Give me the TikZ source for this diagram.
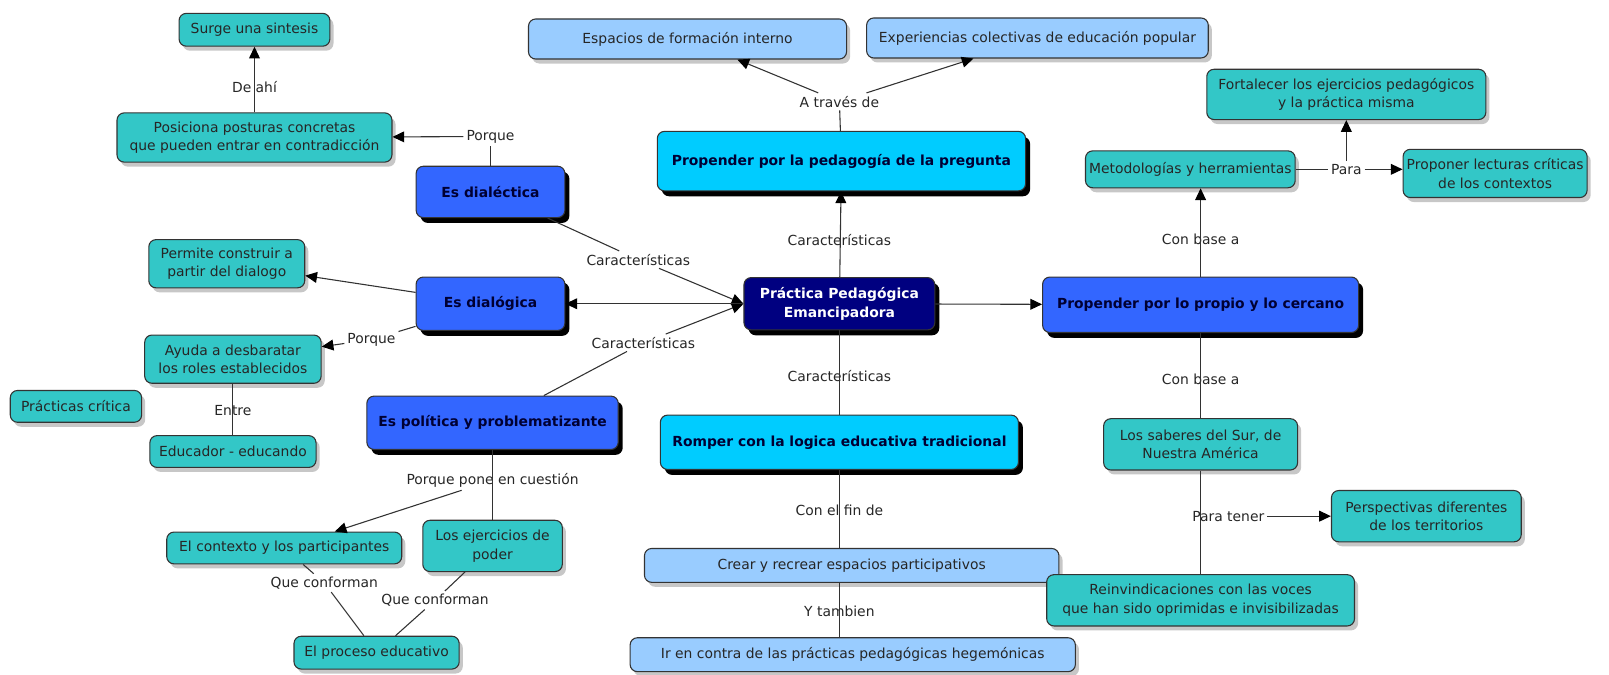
\documentclass[tikz,border=0pt]{standalone}
\usepackage{fontspec}
\setmainfont{DejaVu Sans}
\usepackage{xcolor}
\usepackage{tikz}
\usetikzlibrary{positioning,shadows,arrows.meta}

\definecolor{turquesa}{RGB}{51,199,199}
\definecolor{celeste}{RGB}{153,204,255}
\definecolor{cian}{RGB}{0,204,255}
\definecolor{azul}{RGB}{51,102,255}
\definecolor{marino}{RGB}{0,0,128}
\definecolor{tinta}{RGB}{0,0,51}
\definecolor{gris}{RGB}{50,50,50}

\begin{document}
\begin{tikzpicture}[x=0.02cm, y=-0.02cm,
	every node/.style={font=\fontsize{7.7}{10.3}\selectfont, align=center},
	caja/.style={rectangle, rounded corners=4pt, draw=black!80, line width=0.6pt, inner sep=2pt},
	sombra/.style={drop shadow={shadow xshift=2pt, shadow yshift=-2.5pt, fill=black!22, opacity=1}},
	negra/.style={drop shadow={shadow xshift=2.5pt, shadow yshift=-3pt, fill=black, opacity=1}},
	concepto/.style={caja, sombra, fill=turquesa, text=black!85},
	claro/.style={caja, sombra, fill=celeste, text=black!85},
	idea/.style={caja, negra, fill=azul, text=tinta, font=\fontsize{7.7}{10.3}\selectfont\bfseries},
	fuerte/.style={caja, negra, fill=cian, text=tinta, font=\fontsize{7.7}{10.3}\selectfont\bfseries},
	centro/.style={caja, negra, fill=marino, text=white, font=\fontsize{7.7}{10.3}\selectfont\bfseries},
	enlace/.style={inner sep=1.5pt, text=black!85},
	traza/.style={draw=gris, line width=0.6pt},
	flecha/.style={traza, -{Triangle[length=6.5pt,width=6pt,fill=black,color=black]}}]
	\useasboundingbox (0,0) rectangle (1568,657);

	% centro
	\node[centro, minimum width=3.72cm, minimum height=1.02cm] (practica) at (818,296) {Práctica Pedagógica\\Emancipadora};

	% izquierda
	\node[concepto, minimum width=2.94cm, minimum height=0.64cm] (surge) at (248,29) {Surge una sintesis};
	\node[concepto, minimum width=5.36cm, minimum height=0.96cm] (posiciona) at (248,134) {Posiciona posturas concretas\\que pueden entrar en contradicción};
	\node[idea, minimum width=2.9cm, minimum height=1.0cm] (dialectica) at (478,187) {Es dialéctica};
	\node[concepto, minimum width=3.04cm, minimum height=0.94cm] (permite) at (221,257) {Permite construir a\\partir del dialogo};
	\node[idea, minimum width=2.9cm, minimum height=1.04cm] (dialogica) at (478,296) {Es dialógica};
	\node[concepto, minimum width=3.44cm, minimum height=0.94cm] (ayuda) at (227,350) {Ayuda a desbaratar\\los roles establecidos};
	\node[concepto, minimum width=2.56cm, minimum height=0.62cm] (practicas) at (74,396) {Prácticas crítica};
	\node[concepto, minimum width=3.24cm, minimum height=0.62cm] (educador) at (227,440) {Educador - educando};
	\node[idea, minimum width=4.9cm, minimum height=1.04cm] (politica) at (480,412) {Es política y problematizante};
	\node[concepto, minimum width=4.58cm, minimum height=0.62cm] (contexto) at (277,534) {El contexto y los participantes};
	\node[concepto, minimum width=2.72cm, minimum height=1.0cm] (ejercicios) at (480,532) {Los ejercicios de\\poder};
	\node[concepto, minimum width=3.22cm, minimum height=0.64cm] (proceso) at (367,636) {El proceso educativo};

	% arriba y abajo
	\node[claro, minimum width=6.2cm, minimum height=0.78cm] (espacios) at (670,38) {Espacios de formación interno};
	\node[claro, minimum width=6.66cm, minimum height=0.78cm] (experiencias) at (1011,37) {Experiencias colectivas de educación popular};
	\node[fuerte, minimum width=7.18cm, minimum height=1.16cm] (pregunta) at (820,157) {Propender por la pedagogía de la pregunta};
	\node[fuerte, minimum width=6.98cm, minimum height=1.06cm] (romper) at (818,431) {Romper con la logica educativa tradicional};
	\node[claro, minimum width=8.08cm, minimum height=0.66cm] (crear) at (830,551) {Crear y recrear espacios participativos};
	\node[claro, minimum width=8.68cm, minimum height=0.66cm] (contra) at (831,638) {Ir en contra de las prácticas pedagógicas hegemónicas};

	% derecha
	\node[concepto, minimum width=5.44cm, minimum height=0.98cm] (fortalecer) at (1312,92) {Fortalecer los ejercicios pedagógicos\\y la práctica misma};
	\node[concepto, minimum width=3.8cm, minimum height=0.72cm] (metodologias) at (1160,165) {Metodologías y herramientas};
	\node[concepto, minimum width=3.3cm, minimum height=0.94cm] (proponer) at (1457,169) {Proponer lecturas críticas\\de los contextos};
	\node[idea, minimum width=6.16cm, minimum height=1.08cm] (propio) at (1170,297) {Propender por lo propio y lo cercano};
	\node[concepto, minimum width=3.78cm, minimum height=1.0cm] (saberes) at (1170,433) {Los saberes del Sur, de\\Nuestra América};
	\node[concepto, minimum width=3.7cm, minimum height=1.0cm] (perspectivas) at (1390,503) {Perspectivas diferentes\\de los territorios};
	\node[concepto, minimum width=6.0cm, minimum height=1.0cm] (reinvindicaciones) at (1170,585) {Reinvindicaciones con las voces\\que han sido oprimidas e invisibilizadas};

	% enlaces
	\node[enlace] (deahi) at (248,85) {De ahí};
	\node[enlace] (porque1) at (478,133) {Porque};
	\node[enlace] (carac1) at (622,253) {Características};
	\node[enlace] (carac2) at (627,334) {Características};
	\node[enlace] (porque2) at (362,331) {Porque};
	\node[enlace] (entre) at (227,400) {Entre};
	\node[enlace] (cuestion) at (480,468) {Porque pone en cuestión};
	\node[enlace] (conforman1) at (316,568) {Que conforman};
	\node[enlace] (conforman2) at (424,585) {Que conforman};
	\node[enlace] (carac3) at (818,234) {Características};
	\node[enlace] (atraves) at (818,99) {A través de};
	\node[enlace] (carac4) at (818,366) {Características};
	\node[enlace] (confin) at (818,497) {Con el fin de};
	\node[enlace] (ytambien) at (818,596) {Y tambien};
	\node[enlace] (conbase1) at (1170,233) {Con base a};
	\node[enlace] (conbase2) at (1170,370) {Con base a};
	\node[enlace] (para) at (1312,165) {Para};
	\node[enlace] (paratener) at (1197,503) {Para tener};

	\draw[flecha] (posiciona) -- (surge);
	\draw[traza] (dialectica) -- (porque1);
	\draw[flecha] (porque1) -- (posiciona);
	\draw[traza] (dialectica) -- (carac1);
	\draw[flecha] (carac1) -- (practica.west);
	\draw[traza] (politica) -- (carac2);
	\draw[flecha] (carac2) -- (practica.west);
	\draw[flecha] (practica) -- (dialogica);
	\draw[flecha] (dialogica) -- (permite);
	\draw[traza] (dialogica) -- (porque2);
	\draw[flecha] (porque2) -- (ayuda);
	\draw[traza] (ayuda) -- (educador);
	\draw[traza] (politica) -- (ejercicios);
	\draw[flecha] (cuestion) -- (contexto);
	\draw[traza] (contexto) -- (conforman1);
	\draw[traza] (conforman1) -- (proceso);
	\draw[traza] (ejercicios) -- (conforman2);
	\draw[traza] (conforman2) -- (proceso);

	\draw[flecha] (practica) -- (pregunta);
	\draw[traza] (pregunta) -- (atraves);
	\draw[flecha] (atraves) -- (espacios);
	\draw[flecha] (atraves) -- (experiencias);
	\draw[traza] (practica) -- (romper);
	\draw[traza] (romper) -- (romper |- crear.north);
	\draw[traza] (romper |- crear.south) -- (romper |- contra.north);

	\draw[flecha] (practica) -- (propio);
	\draw[flecha] (propio) -- (propio |- metodologias.south);
	\draw[traza] (metodologias) -- (para);
	\draw[flecha] (para) -- (fortalecer);
	\draw[flecha] (para) -- (para -| proponer.west);
	\draw[traza] (propio) -- (saberes);
	\draw[traza] (saberes) -- (reinvindicaciones);
	\draw[flecha] (paratener) -- (perspectivas);
\end{tikzpicture}
\end{document}
